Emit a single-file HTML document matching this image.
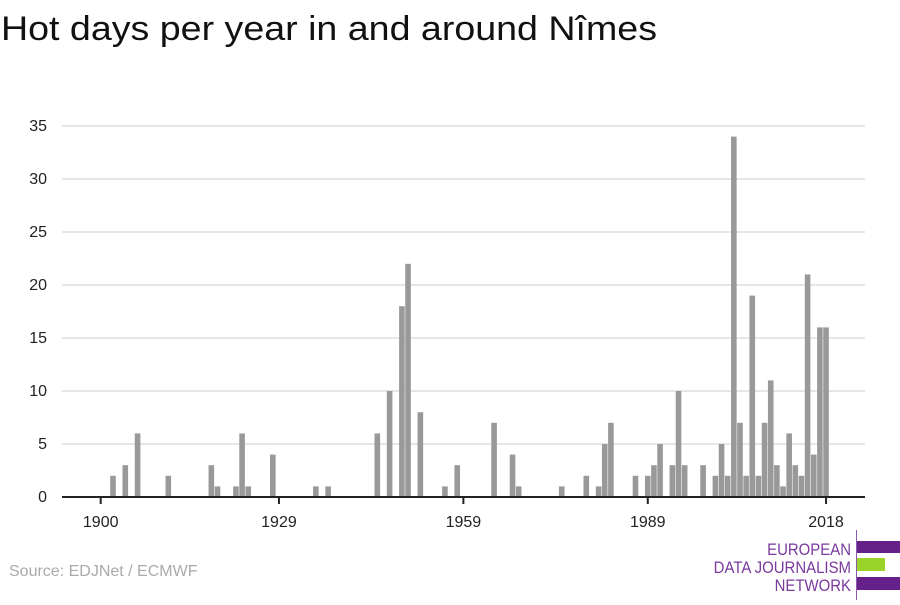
<!DOCTYPE html>
<html><head><meta charset="utf-8"><style>
body{margin:0;width:900px;height:600px;background:#fff;overflow:hidden;font-family:"Liberation Sans",sans-serif}
</style></head><body>
<svg width="900" height="600" xmlns="http://www.w3.org/2000/svg">
<text x="1" y="40" font-size="34" fill="#111" textLength="656" lengthAdjust="spacingAndGlyphs">Hot days per year in and around Nîmes</text>
<g id="grid"></g>
<g id="bars"></g>
<g id="axes"></g>
<text x="9" y="576" font-size="16" fill="#aaa">Source: EDJNet / ECMWF</text>
<g>
<line x1="856.5" y1="530" x2="856.5" y2="600" stroke="#8a5aae" stroke-width="1"/>
<rect x="857" y="541" width="43" height="12" fill="#65208a"/>
<rect x="857" y="558" width="28" height="13" fill="#9ad42a"/>
<rect x="857" y="577" width="43" height="13" fill="#65208a"/>
<g font-size="17" fill="#7a3a9e" text-anchor="end" transform="translate(851,0) scale(0.88,1)">
<text x="0" y="555">EUROPEAN</text>
<text x="0" y="573">DATA JOURNALISM</text>
<text x="0" y="591">NETWORK</text>
</g></g>
</svg>
<script>
const years=[1902,1904,1906,1911,1918,1919,1922,1923,1924,1928,1935,1937,1945,1947,1949,1950,1952,1956,1958,1964,1967,1968,1975,1979,1981,1982,1983,1987,1989,1990,1991,1993,1994,1995,1998,2000,2001,2002,2003,2004,2005,2006,2007,2008,2009,2010,2011,2012,2013,2014,2015,2016,2017,2018];
const values=[2,3,6,2,3,1,1,6,1,4,1,1,6,10,18,22,8,1,3,7,4,1,1,2,1,5,7,2,2,3,5,3,10,3,3,2,5,2,34,7,2,19,2,7,11,3,1,6,3,2,21,4,16,16];
const yTicks=[0,5,10,15,20,25,30,35];
const xTicks=[1900,1929,1959,1989,2018];
const NS="http://www.w3.org/2000/svg";
const x=y=>100.7+(y-1900)*6.147;
const yS=v=>497-v*10.6;
function mk(t,a,p){const e=document.createElementNS(NS,t);for(const k in a)e.setAttribute(k,a[k]);p.appendChild(e);return e;}
const g=document.getElementById('grid'),b=document.getElementById('bars'),ax=document.getElementById('axes');
yTicks.forEach(v=>{
 if(v>0){const l=mk('line',{x1:62,x2:865,y1:yS(v),y2:yS(v),stroke:'#ddd','stroke-width':1.5},g);
 
 }
 const t=mk('text',{x:47,y:yS(v)+5,'font-size':16,fill:'#222','text-anchor':'end'},ax);t.textContent=v;
 
 
});
years.forEach((yr,i)=>{
 const r=mk('rect',{x:x(yr)-2.8,y:yS(values[i]),width:5.6,height:values[i]*10.6,fill:'#999'},b);
 
 
});
const al=mk('line',{x1:62,x2:865,y1:497,y2:497,stroke:'#222','stroke-width':2},ax);


xTicks.forEach(v=>{
 mk('line',{x1:x(v),x2:x(v),y1:497,y2:504,stroke:'#222','stroke-width':2},ax);
 const t=mk('text',{x:x(v),y:527,'font-size':16,fill:'#222','text-anchor':'middle'},ax);t.textContent=v;
 
 
});
</script>
</body></html>
